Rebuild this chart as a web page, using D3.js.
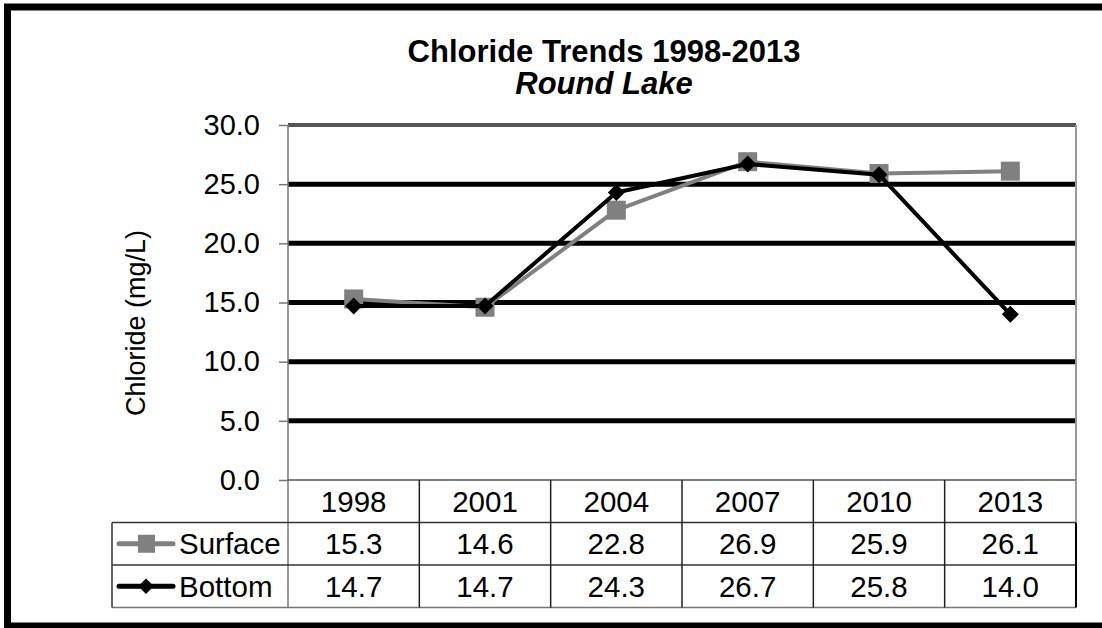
<!DOCTYPE html>
<meta charset="utf-8">
<html>
<head>
  <script src="https://d3js.org/d3.v7.min.js"></script>
  <style>
    body { margin: 0; background: #fff; }
    svg { display: block; font-family: Arial, "Liberation Sans", sans-serif; }
  </style>
</head>
<body>
<script>
  var years = ["1998", "2001", "2004", "2007", "2010", "2013"],
      surface = [15.3, 14.6, 22.8, 26.9, 25.9, 26.1],
      bottom = [14.7, 14.7, 24.3, 26.7, 25.8, 14.0],
      yTicks = [0, 5, 10, 15, 20, 25, 30],
      seriesNames = ["Surface", "Bottom"];

  var W = 1102, H = 628,
      plot = {left: 288, right: 1076, top: 125, bottom: 480},
      rowH = 42.5,
      legendLeft = 112,
      tableFont = 29.5;

  var svg = d3.select("body").append("svg")
      .attr("width", W)
      .attr("height", H);

  svg.append("rect").attr("width", W).attr("height", H).attr("fill", "#fff");

  var x = d3.scaleBand().domain(years).range([plot.left, plot.right]),
      y = d3.scaleLinear().domain([0, 30]).range([plot.bottom, plot.top]);

  // title
  svg.append("text")
      .attr("x", 604).attr("y", 62)
      .attr("text-anchor", "middle")
      .attr("font-size", 31).attr("font-weight", "bold")
      .text("Chloride Trends 1998-2013");
  svg.append("text")
      .attr("x", 604).attr("y", 94)
      .attr("text-anchor", "middle")
      .attr("font-size", 31).attr("font-weight", "bold").attr("font-style", "italic")
      .text("Round Lake");

  // y axis label
  svg.append("text")
      .attr("transform", "translate(145,323) rotate(-90)")
      .attr("text-anchor", "middle")
      .attr("font-size", 27)
      .text("Chloride (mg/L)");

  // gridlines
  svg.append("g").selectAll("line")
      .data(yTicks.filter(function(d){ return d > 0; }))
      .enter().append("line")
      .attr("x1", plot.left).attr("x2", plot.right)
      .attr("y1", function(d){ return y(d); })
      .attr("y2", function(d){ return y(d); })
      .attr("stroke", function(d){ return d === 30 ? "#555" : "#000"; })
      .attr("stroke-width", function(d){ return d === 30 ? 4 : 5; });

  // right border of plot
  svg.append("line")
      .attr("x1", plot.right).attr("x2", plot.right)
      .attr("y1", plot.top).attr("y2", plot.bottom)
      .attr("stroke", "#999").attr("stroke-width", 2);

  // y axis
  var yAxis = svg.append("g")
      .attr("transform", "translate(" + plot.left + ",0)")
      .call(d3.axisLeft(y).tickValues(yTicks).tickSize(9).tickPadding(19).tickFormat(d3.format(".1f")));
  yAxis.select(".domain").attr("stroke", "#777").attr("stroke-width", 1.5)
      .attr("d", "M0," + plot.top + "V" + (plot.bottom + 3 * rowH));
  yAxis.selectAll(".tick line").attr("stroke", "#777").attr("stroke-width", 1.5);
  yAxis.selectAll(".tick text").attr("font-size", 29).attr("fill", "#000")
      .attr("font-family", "Arial, 'Liberation Sans', sans-serif");

  // data table
  var table = svg.append("g");
  var rowTop = [plot.bottom, plot.bottom + rowH, plot.bottom + 2 * rowH, plot.bottom + 3 * rowH];

  // horizontal lines
  table.append("line").attr("x1", plot.left).attr("x2", plot.right)
      .attr("y1", rowTop[0]).attr("y2", rowTop[0]).attr("stroke", "#555").attr("stroke-width", 1.5);
  [1, 2].forEach(function(i){
    table.append("line").attr("x1", legendLeft).attr("x2", plot.right)
        .attr("y1", rowTop[i]).attr("y2", rowTop[i]).attr("stroke", "#333").attr("stroke-width", 1.5);
  });
  table.append("line").attr("x1", legendLeft).attr("x2", plot.right)
      .attr("y1", rowTop[3]).attr("y2", rowTop[3]).attr("stroke", "#777").attr("stroke-width", 1.5);
  // vertical lines
  table.append("line").attr("x1", legendLeft).attr("x2", legendLeft)
      .attr("y1", rowTop[1]).attr("y2", rowTop[3]).attr("stroke", "#333").attr("stroke-width", 1.5);
  table.selectAll(".col").data(years.slice(1)).enter().append("line")
      .attr("x1", function(d){ return x(d); }).attr("x2", function(d){ return x(d); })
      .attr("y1", rowTop[0]).attr("y2", rowTop[3])
      .attr("stroke", "#222").attr("stroke-width", 1.5);
  table.append("line").attr("x1", plot.right).attr("x2", plot.right)
      .attr("y1", rowTop[0]).attr("y2", rowTop[1]).attr("stroke", "#999").attr("stroke-width", 2);
  table.append("line").attr("x1", plot.right).attr("x2", plot.right)
      .attr("y1", rowTop[1]).attr("y2", rowTop[3]).attr("stroke", "#000").attr("stroke-width", 2);

  // header row
  table.selectAll(".yr").data(years).enter().append("text")
      .attr("x", function(d){ return x(d) + x.bandwidth() / 2; })
      .attr("y", rowTop[0] + rowH / 2)
      .attr("dy", "0.35em")
      .attr("text-anchor", "middle")
      .attr("font-size", tableFont)
      .text(function(d){ return d; });

  var series = [
    {name: seriesNames[0], values: surface, color: "#808080", shape: "square"},
    {name: seriesNames[1], values: bottom, color: "#000", shape: "diamond"}
  ];

  var fmt = d3.format(".1f");
  series.forEach(function(s, si){
    var cy = rowTop[si + 1] + rowH / 2;
    table.selectAll(".v" + si).data(s.values).enter().append("text")
        .attr("x", function(d, i){ return x(years[i]) + x.bandwidth() / 2; })
        .attr("y", cy)
        .attr("dy", "0.35em")
        .attr("text-anchor", "middle")
        .attr("font-size", tableFont)
        .text(function(d){ return fmt(d); });

    // legend key
    table.append("line")
        .attr("x1", 119).attr("x2", 173)
        .attr("y1", cy).attr("y2", cy)
        .attr("stroke", s.color).attr("stroke-width", 5).attr("stroke-linecap", "round");
    if (s.shape === "square") {
      table.append("rect").attr("x", 138).attr("y", cy - 9).attr("width", 17).attr("height", 18).attr("fill", s.color);
    } else {
      table.append("path")
          .attr("d", d3.symbol().type(d3.symbolSquare).size(120)())
          .attr("transform", "translate(146," + cy + ") rotate(45)")
          .attr("fill", s.color);
    }
    table.append("text")
        .attr("x", 179).attr("y", cy)
        .attr("dy", "0.35em")
        .attr("font-size", tableFont)
        .text(s.name);
  });

  // series lines and markers
  var line = d3.line()
      .x(function(d, i){ return x(years[i]) + x.bandwidth() / 2; })
      .y(function(d){ return y(d); });

  series.forEach(function(s){
    var g = svg.append("g");
    g.append("path")
        .datum(s.values)
        .attr("d", line)
        .attr("fill", "none")
        .attr("stroke", s.color)
        .attr("stroke-width", 4)
        .attr("stroke-linejoin", "round");
    g.selectAll(".m").data(s.values).enter().append("path")
        .attr("d", s.shape === "square"
            ? d3.symbol().type(d3.symbolSquare).size(361)()
            : d3.symbol().type(d3.symbolSquare).size(144)())
        .attr("transform", function(d, i){
          return "translate(" + (x(years[i]) + x.bandwidth() / 2) + "," + y(d) + ")" +
                 (s.shape === "diamond" ? " rotate(45)" : "");
        })
        .attr("fill", s.color);
  });

  // outer border
  svg.append("rect")
      .attr("x", 7.5).attr("y", 7)
      .attr("width", W + 20).attr("height", 619)
      .attr("fill", "none")
      .attr("stroke", "#000")
      .attr("stroke-width", 7);
</script>
</body>
</html>
